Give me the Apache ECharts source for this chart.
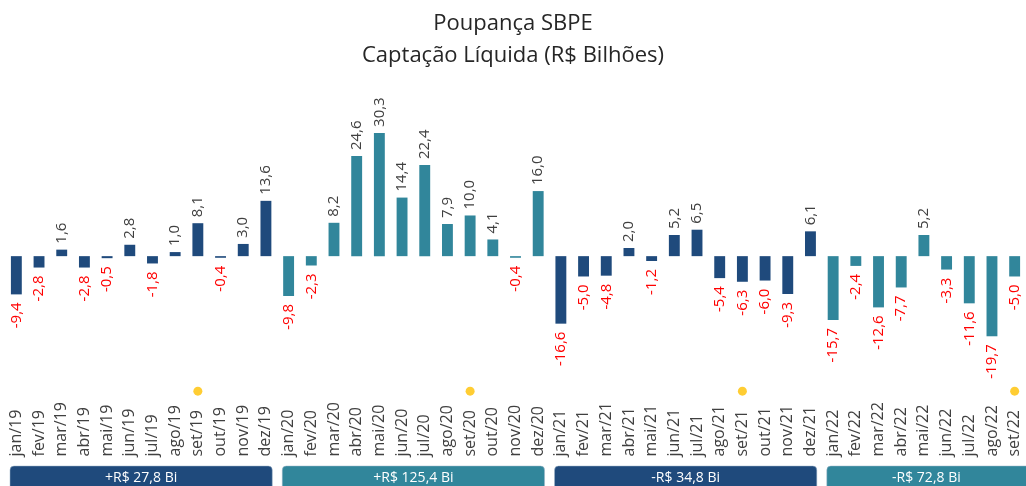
<!DOCTYPE html>
<html>
<head>
<meta charset="utf-8">
<script src="https://cdn.jsdelivr.net/npm/echarts@6/dist/echarts.min.js"></script>
<style>
  html, body { margin: 0; padding: 0; background: #fff; }
  #chart { width: 1026px; height: 486px; }
</style>
</head>
<body>
<div id="chart"></div>
<script>
// meses jan/19 .. set/22
const months = [
  'jan/19','fev/19','mar/19','abr/19','mai/19','jun/19','jul/19','ago/19','set/19','out/19','nov/19','dez/19',
  'jan/20','fev/20','mar/20','abr/20','mai/20','jun/20','jul/20','ago/20','set/20','out/20','nov/20','dez/20',
  'jan/21','fev/21','mar/21','abr/21','mai/21','jun/21','jul/21','ago/21','set/21','out/21','nov/21','dez/21',
  'jan/22','fev/22','mar/22','abr/22','mai/22','jun/22','jul/22','ago/22','set/22'
]
// captação líquida (R$ bi)
const values = [
  -9.4, -2.8, 1.6, -2.8, -0.5, 2.8, -1.8, 1.0, 8.1, -0.4, 3.0, 13.6,
  -9.8, -2.3, 8.2, 24.6, 30.3, 14.4, 22.4, 7.9, 10.0, 4.1, -0.4, 16.0,
  -16.6, -5.0, -4.8, 2.0, -1.2, 5.2, 6.5, -5.4, -6.3, -6.0, -9.3, 6.1,
  -15.7, -2.4, -12.6, -7.7, 5.2, -3.3, -11.6, -19.7, -5.0
]
// meses marcados com bolinha amarela
const markedMonths = ['set/19', 'set/20', 'set/21', 'set/22']
// totais por ano
const yearTotals = ['+R$ 27,8 Bi', '+R$ 125,4 Bi', '-R$ 34,8 Bi', '-R$ 72,8 Bi']
const yearFirst = ['jan/19', 'jan/20', 'jan/21', 'jan/22']
const yearLast = ['dez/19', 'dez/20', 'dez/21', 'set/22']

const NAVY = '#1f4a7c'
const TEAL = '#31869b'
const yearColors = [NAVY, TEAL, NAVY, TEAL]
const FONT = '"Open Sans", sans-serif'

const barData = values.map((v, i) => {
  const color = yearColors[Math.floor(i / 12)]
  const pos = v >= 0
  return {
    value: v,
    itemStyle: {color: color},
    label: {
      show: true,
      position: pos ? 'top' : 'bottom',
      rotate: 90,
      align: pos ? 'left' : 'right',
      verticalAlign: 'middle',
      distance: pos ? 6 : 8,
      color: pos ? '#404040' : '#ff0000',
      fontSize: 15,
      fontFamily: FONT,
      formatter: () => v.toFixed(1).replace('.', ',')
    }
  }
})

const myChart = echarts.init(document.getElementById('chart'))
const option = {
  animation: false,
  title: {
    text: 'Poupança SBPE\nCaptação Líquida (R$ Bilhões)',
    left: 'center',
    top: 3,
    textStyle: {
      fontFamily: FONT,
      fontSize: 22,
      fontWeight: 'normal',
      color: '#262626',
      lineHeight: 32
    }
  },
  grid: {
    left: 5,
    width: 1026,
    top: 126,
    height: 272.5
  },
  xAxis: {
    type: 'category',
    data: months,
    axisLine: {show: false},
    axisTick: {show: false},
    axisLabel: {
      interval: 0,
      rotate: 90,
      align: 'left',
      verticalAlign: 'middle',
      margin: 58,
      fontSize: 16,
      fontFamily: FONT,
      color: '#404040'
    }
  },
  yAxis: {
    type: 'value',
    min: -35,
    max: 32,
    show: false,
    splitLine: {show: false}
  },
  series: [
    {
      type: 'bar',
      data: barData,
      barWidth: '48%'
    },
    {
      type: 'scatter',
      data: markedMonths.map(m => [m, -33.2]),
      symbolSize: 9,
      itemStyle: {color: '#ffc000'},
      silent: true
    }
  ]
}
myChart.setOption(option)

// caixas com o total de cada ano, posicionadas pelo eixo
const step = myChart.convertToPixel({xAxisIndex: 0}, 1) - myChart.convertToPixel({xAxisIndex: 0}, 0)
const boxes = yearTotals.map((txt, k) => {
  const x0 = myChart.convertToPixel({xAxisIndex: 0}, yearFirst[k]) - step / 2 + 5
  let x1 = myChart.convertToPixel({xAxisIndex: 0}, yearLast[k]) + step / 2 - 5
  if (k === yearTotals.length - 1) x1 = 1040
  return {
    type: 'group',
    children: [
      {
        type: 'rect',
        shape: {x: x0, y: 466, width: x1 - x0, height: 30, r: 4},
        style: {fill: yearColors[k], stroke: '#9fb4c8', lineWidth: 0.5}
      },
      {
        type: 'text',
        x: (x0 + Math.min(x1, 1026)) / 2,
        y: 478,
        style: {
          text: txt,
          fill: '#fff',
          font: '14px ' + FONT,
          align: 'center',
          verticalAlign: 'middle'
        }
      }
    ]
  }
})
myChart.setOption({graphic: boxes})
</script>
</body>
</html>
